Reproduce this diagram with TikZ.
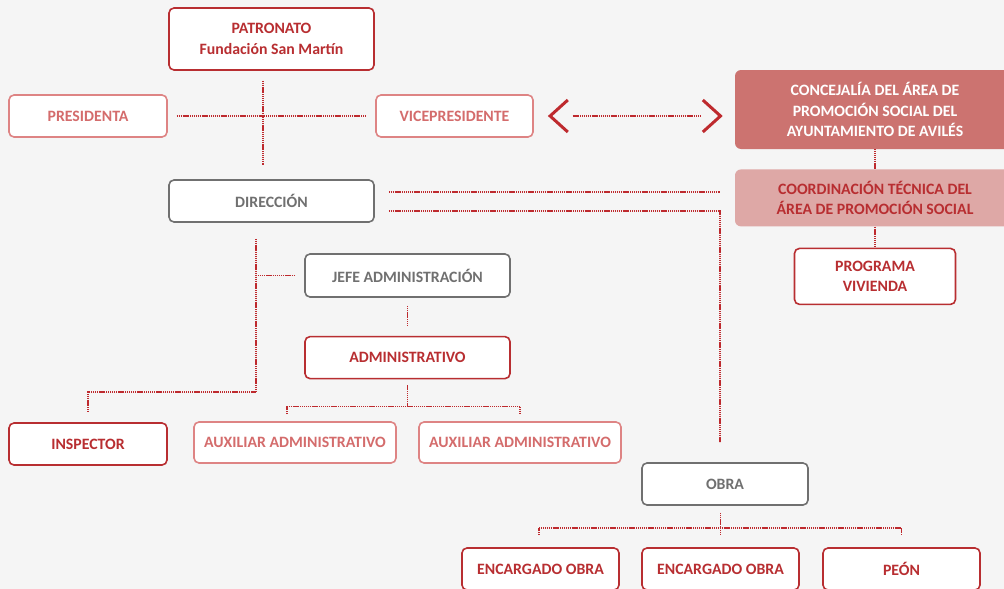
\documentclass[tikz,border=0pt]{standalone}
\usepackage{fontspec}
\setmainfont{Carlito}
\usepackage{tikz}
\usetikzlibrary{positioning, calc}
\definecolor{pagegray}{RGB}{245, 245, 245}
\definecolor{linkred}{RGB}{190, 42, 46}
\definecolor{strongred}{RGB}{184, 46, 49}
\definecolor{softred}{RGB}{212, 108, 108}
\definecolor{softredline}{RGB}{222, 132, 132}
\definecolor{unitgray}{RGB}{112, 112, 112}
\definecolor{councilfill}{RGB}{204, 115, 112}
\definecolor{coordfill}{RGB}{222, 168, 166}

\begin{document}
\begin{tikzpicture}[
    x=1pt, y=-1pt,
    every node/.style={font=\fontsize{15.8}{20.5}\selectfont\bfseries, align=center},
    postbox/.style={
        rectangle,
        draw=strongred,
        line width=1.6pt,
        fill=white,
        rounded corners=5pt,
        text=strongred,
        inner sep=0pt
    },
    softbox/.style={
        postbox,
        draw=softredline,
        text=softred
    },
    unitbox/.style={
        postbox,
        draw=unitgray,
        text=unitgray
    },
    councilbox/.style={
        rectangle,
        fill=councilfill,
        rounded corners=6pt,
        text=white,
        inner sep=0pt
    },
    coordbox/.style={
        councilbox,
        fill=coordfill,
        text=strongred
    },
    link/.style={
        draw=linkred,
        line width=1.8pt,
        dash pattern=on 1.2pt off 0.7pt
    },
    chevron/.style={
        draw=linkred,
        line width=3pt
    }
]

% background and page frame
\fill[pagegray] (0,0) rectangle (1004,589);
\useasboundingbox (0,0) rectangle (1004,589);
\clip (0,0) rectangle (1004,589);

% ==================== GOVERNING BODIES (TOP) ====================

\node (patronato) [postbox, minimum width=205pt, minimum height=62pt] at (271.5, 39) {PATRONATO\\Fundación San Martín};
\node (presidenta) [softbox, minimum width=158pt, minimum height=42pt] at (88, 116) {PRESIDENTA};
\node (vice) [softbox, minimum width=157pt, minimum height=42pt] at (454.5, 116) {VICEPRESIDENTE};
\node (direccion) [unitbox, minimum width=205pt, minimum height=42pt] at (271.5, 201) {DIRECCIÓN};

% ==================== MUNICIPAL SIDE (RIGHT) ====================

\node (concejalia) [councilbox, minimum width=280pt, minimum height=79pt] at (875, 109.5) {CONCEJALÍA DEL ÁREA DE\\PROMOCIÓN SOCIAL DEL\\AYUNTAMIENTO DE AVILÉS};
\node (coord) [coordbox, minimum width=280pt, minimum height=57pt, below=20pt of concejalia] {COORDINACIÓN TÉCNICA DEL\\ÁREA DE PROMOCIÓN SOCIAL};
\node (programa) [postbox, minimum width=161pt, minimum height=56pt, below=21pt of coord] {PROGRAMA\\VIVIENDA};

% ==================== ADMINISTRATION & WORKS (BOTTOM) ====================

\node (jefe) [unitbox, minimum width=205pt, minimum height=43pt] at (407.5, 275.5) {JEFE ADMINISTRACIÓN};
\node (admin) [postbox, minimum width=205pt, minimum height=42pt, below=38pt of jefe] {ADMINISTRATIVO};
\node (inspector) [postbox, minimum width=158pt, minimum height=42pt] at (88, 444) {INSPECTOR};
\node (aux_a) [softbox, minimum width=202pt, minimum height=41pt] at (295, 442.5) {AUXILIAR ADMINISTRATIVO};
\node (aux_b) [softbox, minimum width=202pt, minimum height=41pt] at (520, 442.5) {AUXILIAR ADMINISTRATIVO};

\node (obra) [unitbox, minimum width=166pt, minimum height=42pt] at (725, 484) {OBRA};
\node (enc_a) [postbox, minimum width=157pt, minimum height=42pt] at (540.5, 569) {ENCARGADO OBRA};
\node (enc_b) [postbox, minimum width=157pt, minimum height=42pt] at (720.5, 569) {ENCARGADO OBRA};
\node (peon) [postbox, minimum width=157pt, minimum height=42pt] at (901.5, 569) {PEÓN};

% Connections top
\draw [link] ([xshift=-8.5pt, yshift=-10pt]patronato.south) -- ([xshift=-8.5pt, yshift=14pt]direccion.north);
\draw [link] ([xshift=9pt]presidenta.east) -- ([xshift=-10pt]vice.west);

% Vice <-> Concejalia
\coordinate (vice_end) at ([xshift=38.7pt]vice.east);
\coordinate (conc_end) at ([xshift=-33.3pt]concejalia.west |- vice.east);
\draw [link] (vice_end) -- (conc_end);
\draw [chevron] ([xshift=34pt, yshift=16pt]vice.east) -- ([xshift=16.3pt]vice.east) -- ([xshift=34pt, yshift=-16pt]vice.east);
\draw [chevron] ($(conc_end)+(1.3pt,16pt)$) -- ($(conc_end)+(19pt,0)$) -- ($(conc_end)+(1.3pt,-16pt)$);

% Connections right
\draw [link] (concejalia.south) -- (coord.north);
\draw [link] (coord.south) -- (programa.north);
\coordinate (dir_a) at ([xshift=14pt, yshift=9pt]direccion.east);
\draw [link] (dir_a) -- ([xshift=-15pt]dir_a -| coord.west);
\draw [link] ([xshift=14pt, yshift=-10pt]direccion.east) -| ([xshift=-5pt, yshift=20pt]obra.north);

% Connections left
\coordinate (dir_down) at ([xshift=-15.5pt, yshift=-16pt]direccion.south);
\draw [link] (dir_down) |- ([yshift=30pt]inspector.north) -- ([yshift=10pt]inspector.north);
\draw [link] ([xshift=-9pt]jefe.west) -- (jefe.west -| dir_down);
\draw [link] ([yshift=-8pt]jefe.south) -- ([yshift=10pt]admin.north);

% Connections admin
\coordinate (adm_bus) at ([yshift=-27pt]admin.south);
\draw [link] ([yshift=-6pt]admin.south) -- (adm_bus);
\draw [link] ([xshift=-8pt, yshift=7pt]aux_a.north) |- (adm_bus -| aux_b.north) -- ([yshift=7pt]aux_b.north);

% Connections obra
\coordinate (obra_bus) at ($(obra.south -| enc_b.north)+(0,-22pt)$);
\draw [link] ($(obra.south -| enc_b.north)+(0,-7pt)$) -- ([yshift=12pt]enc_b.north);
\draw [link] ([xshift=-1.5pt, yshift=12pt]enc_a.north) |- (obra_bus -| peon.north) -- ([yshift=12pt]peon.north);

\end{tikzpicture}
\end{document}
